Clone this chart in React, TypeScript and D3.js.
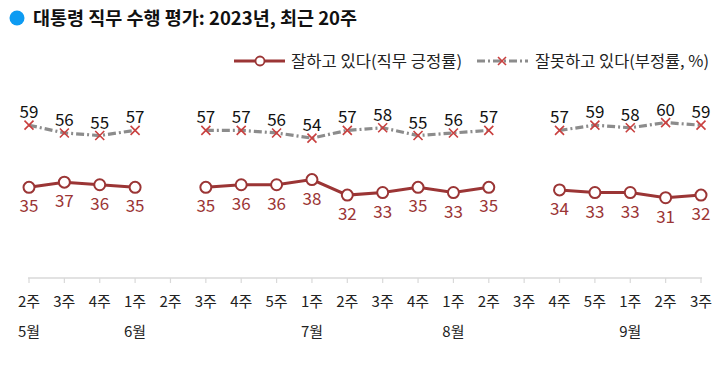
import React from "react";
import * as d3 from "d3";

const weeks = ["2주","3주","4주","1주","2주","3주","4주","5주","1주","2주","3주","4주","1주","2주","3주","4주","5주","1주","2주","3주"];
const months: [number, string][] = [[0, "5월"], [3, "6월"], [8, "7월"], [12, "8월"], [17, "9월"]];
const approve: (number | null)[] = [35,37,36,35,null,35,36,36,38,32,33,35,33,35,null,34,33,33,31,32];
const disapprove: (number | null)[] = [59,56,55,57,null,57,57,56,54,57,58,55,56,57,null,57,59,58,60,59];

const W = 727, H = 367;
const FONT = "'Noto Sans CJK KR', 'Noto Sans', sans-serif";
const RED = "#9b3535";
const XRED = "#c9403f";
const GRAY = "#8c8c8c";

export default function App() {
  const x = d3.scalePoint<number>().domain(weeks.map((_, i) => i)).range([29, 701]);
  const y = d3.scaleLinear().domain([0, 100]).range([278, 19]);
  const lineGen = d3.line<number | null>()
    .defined(d => d != null)
    .x((_, i) => x(i)!)
    .y(d => y(d as number));

  const xMark = (cx: number, cy: number, s: number, key: string) => (
    <path key={key} d={`M${cx - s},${cy - s}L${cx + s},${cy + s}M${cx - s},${cy + s}L${cx + s},${cy - s}`}
      stroke={XRED} strokeWidth={1.6} fill="none" />
  );

  return (
    <svg width={W} height={H} style={{ position: "absolute", left: 0, top: 0, background: "#fff" }} fontFamily={FONT}>
      {/* title */}
      <circle cx={17} cy={18} r={7.5} fill="#0d9bf2" />
      <text x={33} y={25} fontSize={18} fontWeight="bold" fill="#111" textLength={324} lengthAdjust="spacingAndGlyphs">대통령 직무 수행 평가: 2023년, 최근 20주</text>

      {/* legend */}
      <line x1={234} x2={285} y1={61} y2={61} stroke={RED} strokeWidth={3} />
      <circle cx={260} cy={61} r={4.5} fill="#fff" stroke={RED} strokeWidth={1.8} />
      <text x={291} y={67} fontSize={16} fill="#222" textLength={171} lengthAdjust="spacingAndGlyphs">잘하고 있다(직무 긍정률)</text>
      <line x1={477} x2={528} y1={61} y2={61} stroke={GRAY} strokeWidth={3} strokeDasharray="8,3,2,3" />
      {xMark(502, 61, 4, "lx")}
      <text x={535} y={67} fontSize={16} fill="#222" textLength={174} lengthAdjust="spacingAndGlyphs">잘못하고 있다(부정률, %)</text>

      {/* axis */}
      <line x1={x(0)! - 1} x2={x(19)! + 1} y1={278} y2={278} stroke="#d9d9d9" strokeWidth={1.5} />
      {weeks.map((w, i) => (
        <g key={"t" + i}>
          <line x1={x(i)} x2={x(i)} y1={278} y2={283} stroke="#d9d9d9" strokeWidth={1.2} />
          <text x={x(i)} y={307} fontSize={15} textAnchor="middle" fill="#222">{w}</text>
        </g>
      ))}
      {months.map(([i, m]) => (
        <text key={"m" + i} x={x(i)} y={337} fontSize={15} textAnchor="middle" fill="#222">{m}</text>
      ))}

      {/* disapprove */}
      <path d={lineGen(disapprove)!} fill="none" stroke={GRAY} strokeWidth={3.2} strokeDasharray="8,3,2,3" />
      {disapprove.map((v, i) => v == null ? null : (
        <g key={"d" + i}>
          {xMark(x(i)!, y(v), 4.5, "dx" + i)}
          <text x={x(i)} y={y(v) - 7} fontSize={17} textAnchor="middle" fill="#111">{v}</text>
        </g>
      ))}

      {/* approve */}
      <path d={lineGen(approve)!} fill="none" stroke={RED} strokeWidth={3} />
      {approve.map((v, i) => v == null ? null : (
        <g key={"a" + i}>
          <circle cx={x(i)} cy={y(v)} r={5.5} fill="#fff" stroke={RED} strokeWidth={2} />
          <text x={x(i)} y={y(v) + 25} fontSize={17} textAnchor="middle" fill={RED}>{v}</text>
        </g>
      ))}
    </svg>
  );
}
